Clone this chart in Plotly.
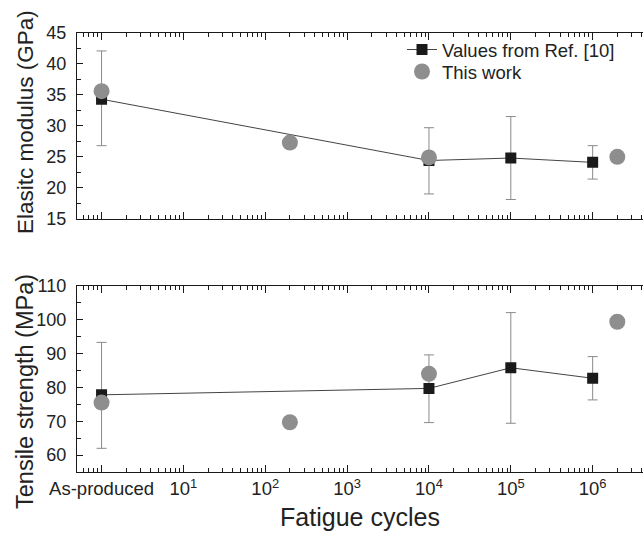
import plotly.graph_objects as go
from plotly.subplots import make_subplots

# Data
ref_cycles = [1, 1e4, 1e5, 1e6]
ref_modulus = [34.3, 24.4, 24.8, 24.1]
ref_modulus_err_plus = [7.8, 5.3, 6.7, 2.7]
ref_modulus_err_minus = [7.5, 5.4, 6.7, 2.7]
ref_strength = [77.8, 79.7, 85.8, 82.7]
ref_strength_err_plus = [15.5, 9.9, 16.3, 6.4]
ref_strength_err_minus = [15.8, 10.1, 16.4, 6.4]

work_cycles = [1, 200, 1e4, 2e6]
work_modulus = [35.6, 27.3, 24.9, 25.0]
work_strength = [75.5, 69.7, 84.0, 99.4]

tick_vals = [1, 10, 100, 1e3, 1e4, 1e5, 1e6]
tick_text = ["As-produced", "10<sup>1</sup>", "10<sup>2</sup>", "10<sup>3</sup>",
             "10<sup>4</sup>", "10<sup>5</sup>", "10<sup>6</sup>"]

minor_vals = [m * 10 ** k for k in range(-1, 7) for m in range(2, 10)]

FONT = "Liberation Sans, Arial, sans-serif"
axis_col = "#1a1a1a"
txt_col = "#222222"
sq_col = "#1a1a1a"
circ_col = "#8e8e8e"
err_col = "#8a8a8a"
line_col = "#444444"

W, H = 643, 533
ML, MR, MT, MB = 77, 0, 33, 61
PH = H - MT - MB

fig = make_subplots(rows=2, cols=1, shared_xaxes=False, vertical_spacing=0.0)

fig.add_trace(go.Scatter(
    x=ref_cycles, y=ref_modulus, mode="lines+markers", name="Values from Ref. [10]",
    legend="legend",
    line=dict(color=line_col, width=1),
    marker=dict(symbol="square", size=11, color=sq_col),
    error_y=dict(type="data", array=ref_modulus_err_plus, arrayminus=ref_modulus_err_minus,
                 color=err_col, thickness=1, width=5),
), row=1, col=1)
fig.add_trace(go.Scatter(
    x=work_cycles, y=work_modulus, mode="markers", name="This work",
    legend="legend2",
    marker=dict(symbol="circle", size=16, color=circ_col),
), row=1, col=1)
fig.add_trace(go.Scatter(
    x=ref_cycles, y=ref_strength, mode="lines+markers", showlegend=False,
    line=dict(color=line_col, width=1),
    marker=dict(symbol="square", size=11, color=sq_col),
    error_y=dict(type="data", array=ref_strength_err_plus, arrayminus=ref_strength_err_minus,
                 color=err_col, thickness=1, width=5),
), row=2, col=1)
fig.add_trace(go.Scatter(
    x=work_cycles, y=work_strength, mode="markers", showlegend=False,
    marker=dict(symbol="circle", size=16, color=circ_col),
), row=2, col=1)

xcommon = dict(
    type="log", range=[-0.30, 6.615], showgrid=False, zeroline=False,
    showline=True, linecolor=axis_col, linewidth=1.2, mirror="allticks",
    ticks="inside", ticklen=7, tickcolor=axis_col, tickwidth=1,
    tickmode="array", tickvals=tick_vals, ticktext=tick_text,
    minor=dict(tickmode="array", tickvals=minor_vals, ticks="inside", ticklen=4,
               tickcolor=axis_col, tickwidth=1, showgrid=False),
    tickfont=dict(family=FONT, size=18.5, color=txt_col),
)
ycommon = dict(
    showgrid=False, zeroline=False, showline=True, linecolor=axis_col, linewidth=1.2,
    ticks="inside", ticklen=6, tickcolor=axis_col, ticklabelstandoff=6,
    tickfont=dict(family=FONT, size=18, color=txt_col),
)
leg_common = dict(x=(442 - 40 - ML) / (W - ML - MR), xanchor="left", yanchor="top",
                  bgcolor="rgba(0,0,0,0)", font=dict(family=FONT, size=18.5, color=txt_col),
                  itemwidth=30)
fig.update_layout(
    xaxis=dict(xcommon, domain=[0, 1], showticklabels=False, anchor="y"),
    xaxis2=dict(xcommon, domain=[0, 1], showticklabels=True, anchor="y2",
                title=dict(text="Fatigue cycles", font=dict(family=FONT, size=25, color=txt_col), standoff=10)),
    yaxis=dict(ycommon, domain=[0.577, 1], range=[15, 45], tickvals=[15, 20, 25, 30, 35, 40, 45],
               minor=dict(dtick=2.5, ticks="inside", ticklen=4, tickcolor=axis_col, showgrid=False)),
    yaxis2=dict(ycommon, domain=[0, 0.424], range=[55, 110], tickvals=[60, 70, 80, 90, 100, 110],
                minor=dict(dtick=5, ticks="inside", ticklen=4, tickcolor=axis_col, showgrid=False)),
    width=W, height=H,
    margin=dict(l=ML, r=MR, t=MT, b=MB),
    paper_bgcolor="white", plot_bgcolor="white",
    legend=dict(leg_common, y=1 + 2 / PH),
    legend2=dict(leg_common, y=1 - (53 - MT) / PH),
    showlegend=True,
    annotations=[
        dict(text="Elasitc modulus (GPa)", textangle=-90, xref="paper", yref="paper",
             x=(25 - ML) / (W - ML - MR), y=(H - MB - 122) / PH, xanchor="center", yanchor="middle",
             showarrow=False, font=dict(family=FONT, size=22.5, color=txt_col)),
        dict(text="Tensile strength (MPa)", textangle=-90, xref="paper", yref="paper",
             x=(25 - ML) / (W - ML - MR), y=(H - MB - 392) / PH, xanchor="center", yanchor="middle",
             showarrow=False, font=dict(family=FONT, size=23.5, color=txt_col)),
    ],
)

fig.write_html("out.html")
